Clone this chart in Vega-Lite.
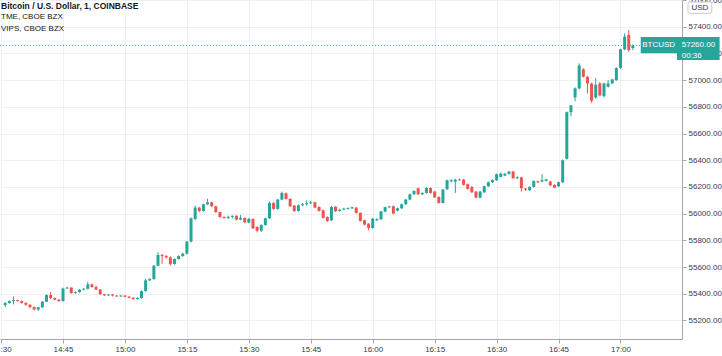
{
"$schema": "https://vega.github.io/schema/vega-lite/v6.json",
"width": 682, "height": 339,
"autosize": {"type": "none"},
"padding": {"left": 0, "top": 0, "right": 40, "bottom": 17},
"background": "white",
"title": {"text": "Bitcoin / U.S. Dollar, 1, COINBASE", "subtitle": ["TME, CBOE BZX", "VIPS, CBOE BZX"], "anchor": "start", "frame": "group", "orient": "top", "offset": 0, "dy": 37, "dx": 1, "font": "Liberation Sans", "fontSize": 8.5, "fontWeight": "bold", "color": "#131722", "subtitleFont": "Liberation Sans", "subtitleFontSize": 8, "subtitleColor": "#131722", "subtitlePadding": 3, "subtitleLineHeight": 12},
"config": {"view": {"stroke": null}, "axis": {"labelFont": "Liberation Sans", "labelFontSize": 8, "labelColor": "#363a45", "domainColor": "#a3a6af", "tickColor": "#a3a6af", "tickSize": 4, "labelPadding": 2, "gridColor": "#eef0f4", "grid": true, "labelOverlap": false, "labelFlush": false}},
"data": {"values": [
{"t":"2021-02-21T14:31:00Z","o":55315,"h":55340,"l":55300,"c":55330},
{"t":"2021-02-21T14:32:00Z","o":55330,"h":55350,"l":55325,"c":55345},
{"t":"2021-02-21T14:33:00Z","o":55345,"h":55380,"l":55320,"c":55352},
{"t":"2021-02-21T14:34:00Z","o":55352,"h":55355,"l":55340,"c":55345},
{"t":"2021-02-21T14:35:00Z","o":55345,"h":55350,"l":55325,"c":55332},
{"t":"2021-02-21T14:36:00Z","o":55332,"h":55335,"l":55310,"c":55318},
{"t":"2021-02-21T14:37:00Z","o":55318,"h":55320,"l":55290,"c":55300},
{"t":"2021-02-21T14:38:00Z","o":55300,"h":55305,"l":55275,"c":55282},
{"t":"2021-02-21T14:39:00Z","o":55282,"h":55302,"l":55270,"c":55298},
{"t":"2021-02-21T14:40:00Z","o":55298,"h":55345,"l":55295,"c":55340},
{"t":"2021-02-21T14:41:00Z","o":55340,"h":55395,"l":55338,"c":55390},
{"t":"2021-02-21T14:42:00Z","o":55390,"h":55412,"l":55360,"c":55368},
{"t":"2021-02-21T14:43:00Z","o":55368,"h":55372,"l":55350,"c":55356},
{"t":"2021-02-21T14:44:00Z","o":55356,"h":55360,"l":55338,"c":55345},
{"t":"2021-02-21T14:45:00Z","o":55345,"h":55445,"l":55340,"c":55440},
{"t":"2021-02-21T14:46:00Z","o":55440,"h":55452,"l":55436,"c":55446},
{"t":"2021-02-21T14:47:00Z","o":55446,"h":55448,"l":55400,"c":55405},
{"t":"2021-02-21T14:48:00Z","o":55405,"h":55418,"l":55400,"c":55412},
{"t":"2021-02-21T14:49:00Z","o":55412,"h":55436,"l":55408,"c":55430},
{"t":"2021-02-21T14:50:00Z","o":55430,"h":55442,"l":55425,"c":55437},
{"t":"2021-02-21T14:51:00Z","o":55437,"h":55490,"l":55432,"c":55470},
{"t":"2021-02-21T14:52:00Z","o":55470,"h":55475,"l":55445,"c":55450},
{"t":"2021-02-21T14:53:00Z","o":55450,"h":55462,"l":55428,"c":55432},
{"t":"2021-02-21T14:54:00Z","o":55432,"h":55436,"l":55390,"c":55396},
{"t":"2021-02-21T14:55:00Z","o":55396,"h":55400,"l":55382,"c":55388},
{"t":"2021-02-21T14:56:00Z","o":55388,"h":55398,"l":55384,"c":55394},
{"t":"2021-02-21T14:57:00Z","o":55394,"h":55398,"l":55380,"c":55386},
{"t":"2021-02-21T14:58:00Z","o":55386,"h":55390,"l":55376,"c":55380},
{"t":"2021-02-21T14:59:00Z","o":55380,"h":55390,"l":55376,"c":55386},
{"t":"2021-02-21T15:00:00Z","o":55386,"h":55390,"l":55372,"c":55378},
{"t":"2021-02-21T15:01:00Z","o":55378,"h":55382,"l":55365,"c":55370},
{"t":"2021-02-21T15:02:00Z","o":55370,"h":55374,"l":55354,"c":55360},
{"t":"2021-02-21T15:03:00Z","o":55360,"h":55372,"l":55355,"c":55368},
{"t":"2021-02-21T15:04:00Z","o":55368,"h":55425,"l":55362,"c":55420},
{"t":"2021-02-21T15:05:00Z","o":55420,"h":55512,"l":55415,"c":55500},
{"t":"2021-02-21T15:06:00Z","o":55500,"h":55516,"l":55495,"c":55510},
{"t":"2021-02-21T15:07:00Z","o":55510,"h":55615,"l":55505,"c":55610},
{"t":"2021-02-21T15:08:00Z","o":55610,"h":55712,"l":55605,"c":55690},
{"t":"2021-02-21T15:09:00Z","o":55690,"h":55700,"l":55625,"c":55682},
{"t":"2021-02-21T15:10:00Z","o":55682,"h":55690,"l":55665,"c":55672},
{"t":"2021-02-21T15:11:00Z","o":55672,"h":55680,"l":55610,"c":55622},
{"t":"2021-02-21T15:12:00Z","o":55622,"h":55665,"l":55618,"c":55660},
{"t":"2021-02-21T15:13:00Z","o":55660,"h":55688,"l":55655,"c":55682},
{"t":"2021-02-21T15:14:00Z","o":55682,"h":55706,"l":55678,"c":55700},
{"t":"2021-02-21T15:15:00Z","o":55700,"h":55795,"l":55695,"c":55790},
{"t":"2021-02-21T15:16:00Z","o":55790,"h":55972,"l":55785,"c":55965},
{"t":"2021-02-21T15:17:00Z","o":55960,"h":56060,"l":55950,"c":56045},
{"t":"2021-02-21T15:18:00Z","o":56045,"h":56050,"l":56010,"c":56020},
{"t":"2021-02-21T15:19:00Z","o":56020,"h":56075,"l":56015,"c":56070},
{"t":"2021-02-21T15:20:00Z","o":56070,"h":56112,"l":56065,"c":56085},
{"t":"2021-02-21T15:21:00Z","o":56085,"h":56090,"l":56050,"c":56055},
{"t":"2021-02-21T15:22:00Z","o":56055,"h":56058,"l":56005,"c":56012},
{"t":"2021-02-21T15:23:00Z","o":56012,"h":56015,"l":55968,"c":55975},
{"t":"2021-02-21T15:24:00Z","o":55975,"h":55980,"l":55962,"c":55968},
{"t":"2021-02-21T15:25:00Z","o":55968,"h":55985,"l":55960,"c":55976},
{"t":"2021-02-21T15:26:00Z","o":55976,"h":55985,"l":55965,"c":55984},
{"t":"2021-02-21T15:27:00Z","o":55984,"h":55988,"l":55950,"c":55955},
{"t":"2021-02-21T15:28:00Z","o":55955,"h":55990,"l":55950,"c":55968},
{"t":"2021-02-21T15:29:00Z","o":55968,"h":55970,"l":55928,"c":55935},
{"t":"2021-02-21T15:30:00Z","o":55932,"h":55968,"l":55928,"c":55962},
{"t":"2021-02-21T15:31:00Z","o":55960,"h":55965,"l":55885,"c":55890},
{"t":"2021-02-21T15:32:00Z","o":55900,"h":55905,"l":55860,"c":55872},
{"t":"2021-02-21T15:33:00Z","o":55872,"h":55920,"l":55862,"c":55915},
{"t":"2021-02-21T15:34:00Z","o":55915,"h":55970,"l":55910,"c":55965},
{"t":"2021-02-21T15:35:00Z","o":55965,"h":56090,"l":55960,"c":56080},
{"t":"2021-02-21T15:36:00Z","o":56080,"h":56085,"l":56028,"c":56035},
{"t":"2021-02-21T15:37:00Z","o":56035,"h":56110,"l":56030,"c":56105},
{"t":"2021-02-21T15:38:00Z","o":56105,"h":56165,"l":56100,"c":56155},
{"t":"2021-02-21T15:39:00Z","o":56152,"h":56158,"l":56105,"c":56110},
{"t":"2021-02-21T15:40:00Z","o":56110,"h":56115,"l":56050,"c":56055},
{"t":"2021-02-21T15:41:00Z","o":56060,"h":56065,"l":56012,"c":56020},
{"t":"2021-02-21T15:42:00Z","o":56020,"h":56068,"l":56015,"c":56062},
{"t":"2021-02-21T15:43:00Z","o":56062,"h":56080,"l":56058,"c":56070},
{"t":"2021-02-21T15:44:00Z","o":56070,"h":56100,"l":56060,"c":56078},
{"t":"2021-02-21T15:45:00Z","o":56078,"h":56095,"l":56072,"c":56085},
{"t":"2021-02-21T15:46:00Z","o":56085,"h":56090,"l":56040,"c":56045},
{"t":"2021-02-21T15:47:00Z","o":56050,"h":56055,"l":56015,"c":56020},
{"t":"2021-02-21T15:48:00Z","o":56025,"h":56030,"l":55962,"c":55968},
{"t":"2021-02-21T15:49:00Z","o":55975,"h":55980,"l":55938,"c":55945},
{"t":"2021-02-21T15:50:00Z","o":55950,"h":56058,"l":55945,"c":56050},
{"t":"2021-02-21T15:51:00Z","o":56052,"h":56056,"l":56012,"c":56018},
{"t":"2021-02-21T15:52:00Z","o":56020,"h":56036,"l":56015,"c":56030},
{"t":"2021-02-21T15:53:00Z","o":56030,"h":56044,"l":56025,"c":56038},
{"t":"2021-02-21T15:54:00Z","o":56036,"h":56046,"l":56030,"c":56042},
{"t":"2021-02-21T15:55:00Z","o":56040,"h":56052,"l":56035,"c":56048},
{"t":"2021-02-21T15:56:00Z","o":56045,"h":56050,"l":56000,"c":56005},
{"t":"2021-02-21T15:57:00Z","o":56005,"h":56010,"l":55940,"c":55945},
{"t":"2021-02-21T15:58:00Z","o":55950,"h":55955,"l":55912,"c":55918},
{"t":"2021-02-21T15:59:00Z","o":55925,"h":55928,"l":55875,"c":55893},
{"t":"2021-02-21T16:00:00Z","o":55892,"h":55968,"l":55888,"c":55962},
{"t":"2021-02-21T16:01:00Z","o":55950,"h":55966,"l":55945,"c":55958},
{"t":"2021-02-21T16:02:00Z","o":55958,"h":56020,"l":55952,"c":56017},
{"t":"2021-02-21T16:03:00Z","o":56015,"h":56052,"l":56010,"c":56048},
{"t":"2021-02-21T16:04:00Z","o":56048,"h":56058,"l":56040,"c":56054},
{"t":"2021-02-21T16:05:00Z","o":56055,"h":56060,"l":55995,"c":56000},
{"t":"2021-02-21T16:06:00Z","o":56022,"h":56046,"l":56018,"c":56040},
{"t":"2021-02-21T16:07:00Z","o":56040,"h":56075,"l":56035,"c":56070},
{"t":"2021-02-21T16:08:00Z","o":56070,"h":56110,"l":56065,"c":56105},
{"t":"2021-02-21T16:09:00Z","o":56105,"h":56150,"l":56100,"c":56145},
{"t":"2021-02-21T16:10:00Z","o":56145,"h":56175,"l":56140,"c":56170},
{"t":"2021-02-21T16:11:00Z","o":56190,"h":56195,"l":56140,"c":56145},
{"t":"2021-02-21T16:12:00Z","o":56145,"h":56160,"l":56140,"c":56155},
{"t":"2021-02-21T16:13:00Z","o":56155,"h":56198,"l":56150,"c":56192},
{"t":"2021-02-21T16:14:00Z","o":56192,"h":56196,"l":56150,"c":56155},
{"t":"2021-02-21T16:15:00Z","o":56165,"h":56170,"l":56118,"c":56122},
{"t":"2021-02-21T16:16:00Z","o":56125,"h":56130,"l":56075,"c":56080},
{"t":"2021-02-21T16:17:00Z","o":56080,"h":56185,"l":56075,"c":56180},
{"t":"2021-02-21T16:18:00Z","o":56182,"h":56255,"l":56178,"c":56250},
{"t":"2021-02-21T16:19:00Z","o":56242,"h":56258,"l":56235,"c":56250},
{"t":"2021-02-21T16:20:00Z","o":56240,"h":56260,"l":56155,"c":56255},
{"t":"2021-02-21T16:21:00Z","o":56255,"h":56262,"l":56245,"c":56250},
{"t":"2021-02-21T16:22:00Z","o":56255,"h":56260,"l":56210,"c":56215},
{"t":"2021-02-21T16:23:00Z","o":56220,"h":56225,"l":56180,"c":56185},
{"t":"2021-02-21T16:24:00Z","o":56200,"h":56205,"l":56155,"c":56160},
{"t":"2021-02-21T16:25:00Z","o":56165,"h":56170,"l":56115,"c":56120},
{"t":"2021-02-21T16:26:00Z","o":56120,"h":56170,"l":56115,"c":56165},
{"t":"2021-02-21T16:27:00Z","o":56160,"h":56210,"l":56155,"c":56205},
{"t":"2021-02-21T16:28:00Z","o":56205,"h":56240,"l":56200,"c":56235},
{"t":"2021-02-21T16:29:00Z","o":56235,"h":56258,"l":56230,"c":56252},
{"t":"2021-02-21T16:30:00Z","o":56250,"h":56300,"l":56245,"c":56295},
{"t":"2021-02-21T16:31:00Z","o":56275,"h":56308,"l":56270,"c":56300},
{"t":"2021-02-21T16:32:00Z","o":56285,"h":56305,"l":56280,"c":56298},
{"t":"2021-02-21T16:33:00Z","o":56298,"h":56320,"l":56292,"c":56315},
{"t":"2021-02-21T16:34:00Z","o":56315,"h":56320,"l":56260,"c":56265},
{"t":"2021-02-21T16:35:00Z","o":56265,"h":56280,"l":56258,"c":56273},
{"t":"2021-02-21T16:36:00Z","o":56272,"h":56276,"l":56165,"c":56190},
{"t":"2021-02-21T16:37:00Z","o":56188,"h":56192,"l":56170,"c":56180},
{"t":"2021-02-21T16:38:00Z","o":56175,"h":56205,"l":56170,"c":56200},
{"t":"2021-02-21T16:39:00Z","o":56200,"h":56250,"l":56195,"c":56245},
{"t":"2021-02-21T16:40:00Z","o":56242,"h":56248,"l":56228,"c":56235},
{"t":"2021-02-21T16:41:00Z","o":56240,"h":56295,"l":56235,"c":56250},
{"t":"2021-02-21T16:42:00Z","o":56245,"h":56262,"l":56240,"c":56256},
{"t":"2021-02-21T16:43:00Z","o":56240,"h":56245,"l":56205,"c":56212},
{"t":"2021-02-21T16:44:00Z","o":56215,"h":56220,"l":56190,"c":56195},
{"t":"2021-02-21T16:45:00Z","o":56205,"h":56240,"l":56200,"c":56235},
{"t":"2021-02-21T16:46:00Z","o":56235,"h":56405,"l":56230,"c":56400},
{"t":"2021-02-21T16:47:00Z","o":56410,"h":56765,"l":56405,"c":56760},
{"t":"2021-02-21T16:48:00Z","o":56760,"h":56815,"l":56730,"c":56810},
{"t":"2021-02-21T16:49:00Z","o":56870,"h":56945,"l":56840,"c":56938},
{"t":"2021-02-21T16:50:00Z","o":56938,"h":57125,"l":56930,"c":57110},
{"t":"2021-02-21T16:51:00Z","o":57080,"h":57090,"l":57020,"c":57025},
{"t":"2021-02-21T16:52:00Z","o":57025,"h":57030,"l":56900,"c":56975},
{"t":"2021-02-21T16:53:00Z","o":56975,"h":56980,"l":56830,"c":56845},
{"t":"2021-02-21T16:54:00Z","o":56870,"h":57015,"l":56860,"c":56965},
{"t":"2021-02-21T16:55:00Z","o":56975,"h":56985,"l":56878,"c":56885},
{"t":"2021-02-21T16:56:00Z","o":56880,"h":56980,"l":56870,"c":56975},
{"t":"2021-02-21T16:57:00Z","o":56950,"h":57000,"l":56945,"c":56975},
{"t":"2021-02-21T16:58:00Z","o":56975,"h":57010,"l":56970,"c":57005},
{"t":"2021-02-21T16:59:00Z","o":57000,"h":57095,"l":56995,"c":57090},
{"t":"2021-02-21T17:00:00Z","o":57090,"h":57235,"l":57085,"c":57230},
{"t":"2021-02-21T17:01:00Z","o":57230,"h":57350,"l":57225,"c":57325},
{"t":"2021-02-21T17:02:00Z","o":57338,"h":57375,"l":57210,"c":57225},
{"t":"2021-02-21T17:03:00Z","o":57240,"h":57268,"l":57225,"c":57260}
]},
"layer": [
{"data": {"values": [{}]},
 "mark": {"type": "rule", "color": "#26a69a", "strokeDash": [1, 2], "strokeWidth": 1, "opacity": 0.9},
 "encoding": {"y": {"datum": 57260, "type": "quantitative", "scale": {"domain": [55061, 57600], "nice": false, "zero": false}, "axis": {"orient": "right", "title": null, "format": ".2f", "labelOverlap": false, "tickCount": 13, "values": [55200, 55400, 55600, 55800, 56000, 56200, 56400, 56600, 56800, 57000, 57200, 57400, 57600]}}}},
{"mark": {"type": "rule", "strokeWidth": 1},
 "encoding": {
  "x": {"field": "t", "type": "temporal", "scale": {"type": "utc", "domain": [{"year":2021,"month":2,"date":21,"hours":14,"minutes":30,"seconds":57,"utc":true},{"year":2021,"month":2,"date":21,"hours":17,"minutes":13,"seconds":41,"utc":true}]}, "axis": {"title": null}},
  "y": {"field": "l", "type": "quantitative", "scale": {"domain": [55061, 57600], "nice": false, "zero": false}, "axis": {"orient": "right", "title": null, "format": ".2f", "labelOverlap": false, "tickCount": 13, "values": [55200, 55400, 55600, 55800, 56000, 56200, 56400, 56600, 56800, 57000, 57200, 57400, 57600]}},
  "y2": {"field": "h"},
  "color": {"condition": {"test": "datum.c >= datum.o", "value": "#26a69a"}, "value": "#ef5350"}}},
{"mark": {"type": "bar", "size": 3},
 "encoding": {
  "x": {"field": "t", "type": "temporal", "scale": {"type": "utc", "domain": [{"year":2021,"month":2,"date":21,"hours":14,"minutes":30,"seconds":57,"utc":true},{"year":2021,"month":2,"date":21,"hours":17,"minutes":13,"seconds":41,"utc":true}]},
   "axis": {"orient": "bottom", "title": null, "format": "%H:%M", "labelFlush": false, "labelOverlap": false,
    "values": [{"year":2021,"month":2,"date":21,"hours":14,"minutes":30,"utc":true},{"year":2021,"month":2,"date":21,"hours":14,"minutes":45,"utc":true},{"year":2021,"month":2,"date":21,"hours":15,"minutes":0,"utc":true},{"year":2021,"month":2,"date":21,"hours":15,"minutes":15,"utc":true},{"year":2021,"month":2,"date":21,"hours":15,"minutes":30,"utc":true},{"year":2021,"month":2,"date":21,"hours":15,"minutes":45,"utc":true},{"year":2021,"month":2,"date":21,"hours":16,"minutes":0,"utc":true},{"year":2021,"month":2,"date":21,"hours":16,"minutes":15,"utc":true},{"year":2021,"month":2,"date":21,"hours":16,"minutes":30,"utc":true},{"year":2021,"month":2,"date":21,"hours":16,"minutes":45,"utc":true},{"year":2021,"month":2,"date":21,"hours":17,"minutes":0,"utc":true}]}},
  "y": {"field": "o", "type": "quantitative", "scale": {"domain": [55061, 57600], "nice": false, "zero": false},
   "axis": {"orient": "right", "title": null, "format": ".2f", "labelOverlap": false, "tickCount": 13, "values": [55200, 55400, 55600, 55800, 56000, 56200, 56400, 56600, 56800, 57000, 57200, 57400, 57600]}},
  "y2": {"field": "c"},
  "color": {"condition": {"test": "datum.c >= datum.o", "value": "#26a69a"}, "value": "#ef5350"}}},
{"data": {"values": [{}]},
 "mark": {"type": "rect", "color": "#26a69a"},
 "encoding": {
  "x": {"datum": {"year":2021,"month":2,"date":21,"hours":17,"minutes":4,"seconds":54,"utc":true}, "type": "temporal", "axis": {"title": null}},
  "x2": {"datum": {"year":2021,"month":2,"date":21,"hours":17,"minutes":13,"seconds":41,"utc":true}},
  "y": {"datum": 57322, "type": "quantitative", "axis": {"orient": "right", "title": null, "format": ".2f", "labelOverlap": false, "tickCount": 13, "values": [55200, 55400, 55600, 55800, 56000, 56200, 56400, 56600, 56800, 57000, 57200, 57400, 57600]}},
  "y2": {"datum": 57202}}},
{"data": {"values": [{}]},
 "mark": {"type": "rect", "color": "#26a69a"},
 "encoding": {
  "x": {"datum": {"year":2021,"month":2,"date":21,"hours":17,"minutes":13,"seconds":41,"utc":true}, "type": "temporal", "axis": {"title": null}},
  "x2": {"datum": {"year":2021,"month":2,"date":21,"hours":17,"minutes":24,"seconds":0,"utc":true}},
  "y": {"datum": 57322, "type": "quantitative", "axis": {"orient": "right", "title": null, "format": ".2f", "labelOverlap": false, "tickCount": 13, "values": [55200, 55400, 55600, 55800, 56000, 56200, 56400, 56600, 56800, 57000, 57200, 57400, 57600]}},
  "y2": {"datum": 57150}}},
{"data": {"values": [{}]},
 "mark": {"type": "text", "text": "BTCUSD", "fill": "#ffffff", "font": "Liberation Sans", "fontSize": 8, "align": "center", "baseline": "middle"},
 "encoding": {
  "x": {"datum": {"year":2021,"month":2,"date":21,"hours":17,"minutes":9,"seconds":14,"utc":true}, "type": "temporal", "axis": {"title": null}},
  "y": {"datum": 57262, "type": "quantitative", "axis": {"orient": "right", "title": null, "format": ".2f", "labelOverlap": false, "tickCount": 13, "values": [55200, 55400, 55600, 55800, 56000, 56200, 56400, 56600, 56800, 57000, 57200, 57400, 57600]}}}},
{"data": {"values": [{}]},
 "mark": {"type": "text", "text": "57260.00", "fill": "#ffffff", "font": "Liberation Sans", "fontSize": 8, "align": "left", "baseline": "middle"},
 "encoding": {
  "x": {"datum": {"year":2021,"month":2,"date":21,"hours":17,"minutes":14,"seconds":50,"utc":true}, "type": "temporal", "axis": {"title": null}},
  "y": {"datum": 57262, "type": "quantitative", "axis": {"orient": "right", "title": null, "format": ".2f", "labelOverlap": false, "tickCount": 13, "values": [55200, 55400, 55600, 55800, 56000, 56200, 56400, 56600, 56800, 57000, 57200, 57400, 57600]}}}},
{"data": {"values": [{}]},
 "mark": {"type": "text", "text": "00:36", "fill": "#ffffff", "font": "Liberation Sans", "fontSize": 8, "align": "left", "baseline": "middle"},
 "encoding": {
  "x": {"datum": {"year":2021,"month":2,"date":21,"hours":17,"minutes":14,"seconds":50,"utc":true}, "type": "temporal", "axis": {"title": null}},
  "y": {"datum": 57182, "type": "quantitative", "axis": {"orient": "right", "title": null, "format": ".2f", "labelOverlap": false, "tickCount": 13, "values": [55200, 55400, 55600, 55800, 56000, 56200, 56400, 56600, 56800, 57000, 57200, 57400, 57600]}}}},
{"data": {"values": [{}]},
 "mark": {"type": "rect", "fill": "white", "stroke": "#c8cbd2", "strokeWidth": 1, "cornerRadius": 2},
 "encoding": {
  "x": {"datum": {"year":2021,"month":2,"date":21,"hours":17,"minutes":16,"seconds":20,"utc":true}, "type": "temporal", "axis": {"title": null}},
  "x2": {"datum": {"year":2021,"month":2,"date":21,"hours":17,"minutes":22,"seconds":6,"utc":true}},
  "y": {"datum": 57585, "type": "quantitative", "axis": {"orient": "right", "title": null, "format": ".2f", "labelOverlap": false, "tickCount": 13, "values": [55200, 55400, 55600, 55800, 56000, 56200, 56400, 56600, 56800, 57000, 57200, 57400, 57600]}},
  "y2": {"datum": 57500}}},
{"data": {"values": [{}]},
 "mark": {"type": "text", "text": "USD", "fill": "#363a45", "font": "Liberation Sans", "fontSize": 8, "align": "center", "baseline": "middle"},
 "encoding": {
  "x": {"datum": {"year":2021,"month":2,"date":21,"hours":17,"minutes":19,"seconds":13,"utc":true}, "type": "temporal", "axis": {"title": null}},
  "y": {"datum": 57542, "type": "quantitative", "axis": {"orient": "right", "title": null, "format": ".2f", "labelOverlap": false, "tickCount": 13, "values": [55200, 55400, 55600, 55800, 56000, 56200, 56400, 56600, 56800, 57000, 57200, 57400, 57600]}}}}
]
}
